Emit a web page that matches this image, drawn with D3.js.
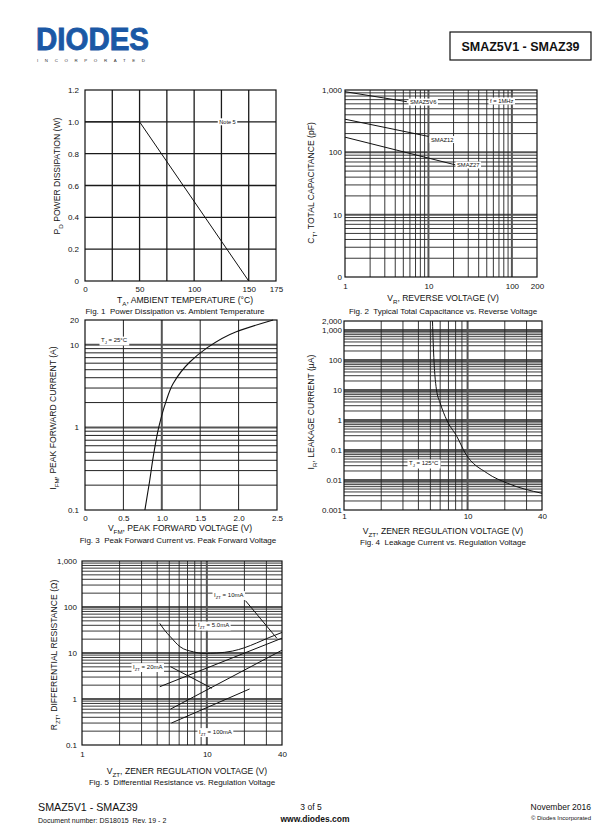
<!DOCTYPE html>
<html><head><meta charset="utf-8">
<script src="https://cdn.jsdelivr.net/npm/d3@7"></script>
<style>
body{margin:0;background:#fff}
svg{display:block}
text{font-family:"Liberation Sans",Arial,Helvetica,sans-serif;fill:#111}
</style>
</head><body>
<svg id="c" width="616" height="832"></svg>
<script>
// ---------------- DATA ----------------
// Fig 1
const fig1Temperature = [0, 50, 150];
const fig1Power = [1.0, 1.0, 0.0];
const fig1XTicks = [0, 50, 100, 150, 175];
const fig1XGrid = [25, 50, 75, 100, 125, 150];
const fig1YTicks = [0, 0.2, 0.4, 0.6, 0.8, 1.0, 1.2];
const fig1YTickLabels = ["0", "0.2", "0.4", "0.6", "0.8", "1.0", "1.2"];
// Fig 2
const fig2VoltageSMAZ5V6 = [1, 5.5];
const fig2CapSMAZ5V6 = [940, 650];
const fig2VoltageSMAZ12 = [1, 10];
const fig2CapSMAZ12 = [340, 180];
const fig2VoltageSMAZ27 = [1, 21];
const fig2CapSMAZ27 = [175, 63];
const fig2XTicks = [1, 10, 100, 200];
const fig2YTicks = [1, 10, 100, 1000];
const fig2YTickLabels = ["0", "10", "100", "1,000"];
// Fig 3
const fig3ForwardVoltage = [0.78, 0.84, 0.89, 0.96, 1.05, 1.148, 1.365, 1.58, 1.97, 2.45];
const fig3ForwardCurrent = [0.1, 0.22, 0.45, 1.0, 2.0, 3.4, 6.2, 9.07, 14.4, 20];
const fig3XTicks = [0, 0.5, 1.0, 1.5, 2.0, 2.5];
const fig3XTickLabels = ["0", "0.5", "1.0", "1.5", "2.0", "2.5"];
const fig3YTicks = [0.1, 1, 10, 20];
const fig3YTickLabels = ["0.1", "1", "10", "20"];
// Fig 4
const fig4Voltage = [5.2, 5.27, 5.6, 6.0, 6.78, 8.2, 9.57, 14.4, 21, 40];
const fig4Leakage = [2000, 376, 10.3, 3.7, 1.0, 0.28, 0.079, 0.0169, 0.0078, 0.0036];
const fig4XTicks = [1, 10, 40];
const fig4YTicks = [0.001, 0.01, 0.1, 1, 10, 100, 1000, 2000];
const fig4YTickLabels = ["0.001", "0.01", "0.1", "1", "10", "100", "1,000", "2,000"];
// Fig 5
const fig5Voltage5mA = [4.2, 4.6, 5.1, 6.1, 7.8, 9.5, 12, 16, 20, 25, 32, 40];
const fig5Res5mA = [44, 31, 22.6, 13.7, 10.6, 9.8, 10.0, 11, 13, 16.5, 22, 28];
const fig5Voltage10mA = [4.2, 40];
const fig5Res10mA = [1.85, 21];
const fig5Voltage20mA = [5.1, 40];
const fig5Res20mA = [0.6, 11.5];
const fig5Voltage100mA = [5.2, 22];
const fig5Res100mA = [0.3, 1.65];
const fig5XTicks = [1, 10, 40];
const fig5YTicks = [0.1, 1, 10, 100, 1000];
const fig5YTickLabels = ["0.1", "1", "10", "100", "1,000"];

// ---------------- HELPERS ----------------
const svg = d3.select("#c");
const zip = (a, b) => a.map((v, i) => [v, b[i]]);

function logGrid(lo, hi) {
  const out = [];
  for (let e = Math.floor(Math.log10(lo)) - 1; e <= Math.ceil(Math.log10(hi)); e++) {
    for (let k = 1; k <= 9; k++) {
      const v = k * Math.pow(10, e);
      if (v >= lo * 0.999 && v <= hi * 1.001) out.push(v);
    }
  }
  return out;
}
const isDecade = v => Math.abs(Math.log10(v) - Math.round(Math.log10(v))) < 1e-6;

function rich(t, parts, size) {
  let shift = 0;
  parts.forEach(p => {
    const target = p.sub ? size * 0.32 : 0;
    t.append("tspan").attr("dy", target - shift)
      .attr("font-size", p.sub ? size * 0.72 : size).text(p.t);
    shift = target;
  });
  return t;
}

function boxLabel(g, x, y, parts, size) {
  const t = g.append("text").attr("x", x).attr("y", y + size * 0.35).attr("font-size", size);
  rich(t, parts, size);
  const b = t.node().getBBox();
  g.insert("rect", () => t.node())
    .attr("x", b.x - 1.5).attr("y", b.y - 0.5)
    .attr("width", b.width + 3).attr("height", b.height + 1)
    .attr("fill", "#fff");
  return t;
}

function gridLines(g, x, y, xs, ys, style) {
  const [xa, xb] = x.range(), [ya, yb] = y.range();
  g.append("g").selectAll("line").data(ys).join("line")
    .attr("x1", xa).attr("x2", xb).attr("y1", d => y(d)).attr("y2", d => y(d))
    .attr("stroke", d => style(d).c).attr("stroke-width", d => style(d).w);
  g.append("g").selectAll("line").data(xs).join("line")
    .attr("y1", ya).attr("y2", yb).attr("x1", d => x(d)).attr("x2", d => x(d))
    .attr("stroke", d => style(d).c).attr("stroke-width", d => style(d).w);
}

function frame(g, x, y) {
  const [xa, xb] = x.range(), [ya, yb] = y.range();
  g.append("rect").attr("x", xa).attr("y", yb).attr("width", xb - xa).attr("height", ya - yb)
    .attr("fill", "none").attr("stroke", "#111").attr("stroke-width", 1.2);
}

function axes(g, x, y, xt, xl, yt, yl, xBase, yRight, fs) {
  const ya = y.range()[0], xa = x.range()[0];
  const ax = g.append("g").attr("transform", `translate(0,${ya})`)
    .call(d3.axisBottom(x).tickValues(xt).tickFormat((d, i) => xl[i]).tickSize(0)
      .tickPadding(xBase - ya - fs * 0.71));
  ax.select(".domain").remove();
  ax.selectAll("text").attr("font-size", fs).attr("font-family", null).attr("fill", "#111");
  const ay = g.append("g").attr("transform", `translate(${xa},0)`)
    .call(d3.axisLeft(y).tickValues(yt).tickFormat((d, i) => yl[i]).tickSize(0)
      .tickPadding(xa - yRight));
  ay.select(".domain").remove();
  ay.selectAll("text").attr("font-size", fs).attr("font-family", null).attr("fill", "#111");
}

function titles(g, xParts, xc, xb, yParts, yx, yc, cap, capc, capb) {
  rich(g.append("text").attr("x", xc).attr("y", xb).attr("text-anchor", "middle").attr("font-size", 8.6), xParts, 8.6);
  rich(g.append("text").attr("transform", `translate(${yx},${yc}) rotate(-90)`).attr("text-anchor", "middle").attr("font-size", 8.6), yParts, 8.6);
  g.append("text").attr("x", capc).attr("y", capb).attr("text-anchor", "middle").attr("font-size", 8).attr("xml:space", "preserve").text(cap);
}

const line = (x, y, curve) => d3.line().x(d => x(d[0])).y(d => y(d[1])).curve(curve || d3.curveLinear);
const logStyle = d => isDecade(d) ? { c: "#555", w: 2 } : { c: "#222", w: 0.9 };
const FS = 8;

// ---------------- HEADER ----------------
svg.append("text").attr("x", 36).attr("y", 50).attr("font-size", 31).attr("font-weight", 900)
  .attr("textLength", 113).attr("lengthAdjust", "spacingAndGlyphs")
  .style("fill", "#1b58a5").style("stroke", "#1b58a5").style("stroke-width", 0.9).text("DIODES");
svg.append("text").attr("x", 37).attr("y", 61.5).attr("font-size", 4.4)
  .attr("textLength", 108).attr("lengthAdjust", "spacing")
  .style("fill", "#333").text("INCORPORATED");
svg.append("rect").attr("x", 450).attr("y", 32).attr("width", 141).attr("height", 28)
  .attr("fill", "none").attr("stroke", "#111").attr("stroke-width", 1.2);
svg.append("text").attr("x", 520.5).attr("y", 50.5).attr("text-anchor", "middle")
  .attr("font-size", 12.5).attr("font-weight", "bold").text("SMAZ5V1 - SMAZ39");

// ---------------- FIG 1 ----------------
{
  const g = svg.append("g");
  const x = d3.scaleLinear().domain([0, 175]).range([85, 276]);
  const y = d3.scaleLinear().domain([0, 1.2]).range([281, 90]);
  gridLines(g, x, y, fig1XGrid, fig1YTicks.slice(1, -1), () => ({ c: "#1a1a1a", w: 1.3 }));
  g.append("path").datum(zip(fig1Temperature, fig1Power)).attr("d", line(x, y))
    .attr("fill", "none").attr("stroke", "#111").attr("stroke-width", 1);
  boxLabel(g, x(123), y(1.0), [{ t: "Note 5" }], 5.6);
  frame(g, x, y);
  axes(g, x, y, fig1XTicks, fig1XTicks.map(String), fig1YTicks, fig1YTickLabels, 292, 79, FS);
  titles(g, [{ t: "T" }, { t: "A", sub: true }, { t: ", AMBIENT TEMPERATURE (°C)" }], 185, 303,
    [{ t: "P" }, { t: "D", sub: true }, { t: " POWER DISSIPATION (W)" }], 60, 176,
    "Fig. 1  Power Dissipation vs. Ambient Temperature", 175, 314);
}

// ---------------- FIG 2 ----------------
{
  const g = svg.append("g");
  const x = d3.scaleLog().domain([1, 200]).range([345, 537]);
  const y = d3.scaleLog().domain([1, 1000]).range([277, 90]);
  gridLines(g, x, y, logGrid(1, 200).slice(1, -1), logGrid(1, 1000).slice(1, -1), logStyle);
  [[fig2VoltageSMAZ5V6, fig2CapSMAZ5V6], [fig2VoltageSMAZ12, fig2CapSMAZ12], [fig2VoltageSMAZ27, fig2CapSMAZ27]]
    .forEach(([vx, vy]) => g.append("path").datum(zip(vx, vy)).attr("d", line(x, y))
      .attr("fill", "none").attr("stroke", "#111").attr("stroke-width", 1));
  boxLabel(g, 410, 102, [{ t: "SMAZ5V6" }], 5.8);
  boxLabel(g, 431, 139.5, [{ t: "SMAZ12" }], 5.8);
  boxLabel(g, 457, 165, [{ t: "SMAZ27" }], 5.8);
  boxLabel(g, 490, 101, [{ t: "f = 1MHz" }], 5.8);
  frame(g, x, y);
  axes(g, x, y, fig2XTicks, fig2XTicks.map(String), fig2YTicks, fig2YTickLabels, 289, 342, FS);
  titles(g, [{ t: "V" }, { t: "R", sub: true }, { t: ", REVERSE VOLTAGE (V)" }], 443, 301,
    [{ t: "C" }, { t: "T", sub: true }, { t: ", TOTAL CAPACITANCE (pF)" }], 314, 183,
    "Fig. 2  Typical Total Capacitance vs. Reverse Voltage", 443, 314);
}

// ---------------- FIG 3 ----------------
{
  const g = svg.append("g");
  const x = d3.scaleLinear().domain([0, 2.5]).range([85, 277]);
  const y = d3.scaleLog().domain([0.1, 20]).range([510, 320]);
  gridLines(g, x, y, [0.5, 1.0, 1.5, 2.0], logGrid(0.1, 20).slice(1, -1),
    d => isDecade(d) ? { c: "#555", w: 2 } : { c: "#222", w: 1 });
  g.append("path").datum(zip(fig3ForwardVoltage, fig3ForwardCurrent)).attr("d", line(x, y, d3.curveMonotoneY))
    .attr("fill", "none").attr("stroke", "#111").attr("stroke-width", 1.1);
  boxLabel(g, 101, 340, [{ t: "T" }, { t: "J", sub: true }, { t: " = 25°C" }], 6);
  frame(g, x, y);
  axes(g, x, y, fig3XTicks, fig3XTickLabels, fig3YTicks, fig3YTickLabels, 521, 79, FS);
  titles(g, [{ t: "V" }, { t: "FM", sub: true }, { t: ", PEAK FORWARD VOLTAGE (V)" }], 180, 531,
    [{ t: "I" }, { t: "FM", sub: true }, { t: ", PEAK FORWARD CURRENT (A)" }], 56, 418,
    "Fig. 3  Peak Forward Current vs. Peak Forward Voltage", 178, 543);
}

// ---------------- FIG 4 ----------------
{
  const g = svg.append("g");
  const x = d3.scaleLog().domain([1, 40]).range([344, 542]);
  const y = d3.scaleLog().domain([0.001, 2000]).range([510, 321]);
  gridLines(g, x, y, logGrid(1, 40).slice(1, -1), logGrid(0.001, 2000).slice(1, -1), logStyle);
  g.append("path").datum(zip(fig4Voltage, fig4Leakage)).attr("d", line(x, y, d3.curveMonotoneX))
    .attr("fill", "none").attr("stroke", "#111").attr("stroke-width", 1);
  boxLabel(g, 409, 463, [{ t: "T" }, { t: "J", sub: true }, { t: " =  125°C" }], 6);
  frame(g, x, y);
  axes(g, x, y, fig4XTicks, fig4XTicks.map(String), fig4YTicks, fig4YTickLabels, 519, 342, FS);
  titles(g, [{ t: "V" }, { t: "ZT", sub: true }, { t: ", ZENER REGULATION VOLTAGE (V)" }], 443, 534,
    [{ t: "I" }, { t: "R", sub: true }, { t: ", LEAKAGE CURRENT (µA)" }], 314, 412,
    "Fig. 4  Leakage Current vs. Regulation Voltage", 443, 545);
}

// ---------------- FIG 5 ----------------
{
  const g = svg.append("g");
  const x = d3.scaleLog().domain([1, 40]).range([82, 282]);
  const y = d3.scaleLog().domain([0.1, 1000]).range([745, 561]);
  gridLines(g, x, y, logGrid(1, 40).slice(1, -1), logGrid(0.1, 1000).slice(1, -1), logStyle);
  g.append("path").datum(zip(fig5Voltage5mA, fig5Res5mA)).attr("d", line(x, y, d3.curveMonotoneX))
    .attr("fill", "none").attr("stroke", "#111").attr("stroke-width", 1);
  [[fig5Voltage10mA, fig5Res10mA], [fig5Voltage20mA, fig5Res20mA], [fig5Voltage100mA, fig5Res100mA]]
    .forEach(([vx, vy]) => g.append("path").datum(zip(vx, vy)).attr("d", line(x, y))
      .attr("fill", "none").attr("stroke", "#111").attr("stroke-width", 1));
  // leader lines from labels
  g.append("path").datum([[20.4, 137], [36.4, 20.9]]).attr("d", line(x, y))
    .attr("stroke", "#111").attr("stroke-width", 1);
  g.append("path").datum([[5.12, 5.04], [11, 1.71]]).attr("d", line(x, y))
    .attr("stroke", "#111").attr("stroke-width", 1);
  boxLabel(g, 214, 594.5, [{ t: "I" }, { t: "ZT", sub: true }, { t: " = 10mA" }], 6);
  boxLabel(g, 198, 625, [{ t: "I" }, { t: "ZT", sub: true }, { t: " = 5.0mA" }], 6);
  boxLabel(g, 133, 666.5, [{ t: "I" }, { t: "ZT", sub: true }, { t: " = 20mA" }], 6);
  boxLabel(g, 199, 731.5, [{ t: "I" }, { t: "ZT", sub: true }, { t: " = 100mA" }], 6);
  frame(g, x, y);
  axes(g, x, y, fig5XTicks, fig5XTicks.map(String), fig5YTicks, fig5YTickLabels, 757, 77, FS);
  titles(g, [{ t: "V" }, { t: "ZT", sub: true }, { t: ", ZENER REGULATION VOLTAGE (V)" }], 187, 774,
    [{ t: "R" }, { t: "ZT", sub: true }, { t: ", DIFFERENTIAL RESISTANCE (Ω)" }], 57, 655,
    "Fig. 5  Differential Resistance vs. Regulation Voltage", 182, 785);
}

// ---------------- FOOTER ----------------
svg.append("text").attr("x", 38).attr("y", 811).attr("font-size", 10.7).text("SMAZ5V1 - SMAZ39");
svg.append("text").attr("x", 38).attr("y", 823).attr("font-size", 7).attr("xml:space", "preserve").text("Document number: DS18015  Rev. 19 - 2");
svg.append("text").attr("x", 311).attr("y", 810).attr("font-size", 8.5).attr("text-anchor", "middle").text("3 of 5");
svg.append("text").attr("x", 315).attr("y", 822).attr("font-size", 8.5).attr("font-weight", "bold").attr("text-anchor", "middle").text("www.diodes.com");
svg.append("text").attr("x", 591).attr("y", 810).attr("font-size", 8.5).attr("text-anchor", "end").text("November 2016");
svg.append("text").attr("x", 591).attr("y", 820).attr("font-size", 6).attr("text-anchor", "end").text("© Diodes Incorporated");
</script>
</body></html>
